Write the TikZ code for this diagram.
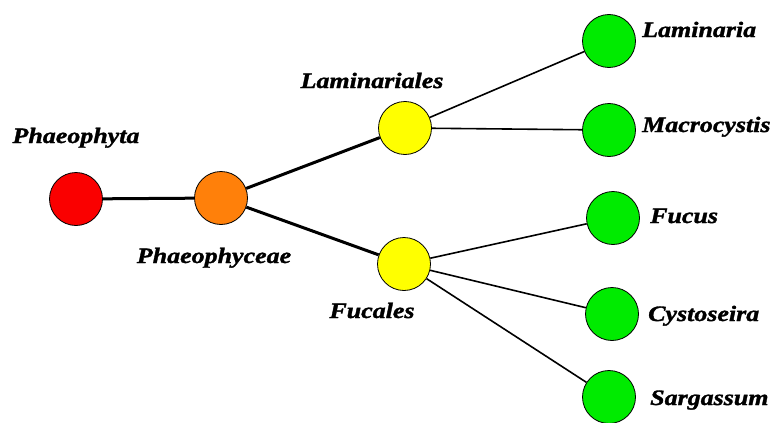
\documentclass[tikz,border=0pt]{standalone}
\usepackage{fontspec}
\setmainfont{Liberation Serif}
\newfontfamily\lblfont[FakeStretch=1.18,FakeBold=1.5]{Liberation Serif}
\begin{document}
\begin{tikzpicture}[x=1pt,y=-1pt,
  taxon/.style={circle,draw=black,line width=0.8pt,minimum size=53pt,inner sep=0pt},
  lbl/.style={inner sep=0pt,font=\lblfont\fontsize{22}{24}\selectfont\bfseries\itshape},
  thick link/.style={line width=3pt},
  thin link/.style={line width=1.6pt}]
\useasboundingbox (0,0) rectangle (777,423);
\definecolor{cred}{RGB}{250,0,0}
\definecolor{corange}{RGB}{255,128,10}
\definecolor{cyellow}{RGB}{255,255,0}
\definecolor{cgreen}{RGB}{0,235,0}
% circles
\node[taxon,fill=cred] (phy) at (76,199) {};
\node[taxon,fill=corange] (pcy) at (221,198) {};
\node[taxon,fill=cyellow] (lal) at (405,128) {};
\node[taxon,fill=cyellow] (fuc) at (404,264) {};
\node[taxon,fill=cgreen] (lam) at (609,41) {};
\node[taxon,fill=cgreen] (mac) at (609,130) {};
\node[taxon,fill=cgreen] (fus) at (613,218) {};
\node[taxon,fill=cgreen] (cys) at (612,314) {};
\node[taxon,fill=cgreen] (sar) at (609,397) {};
% links
\draw[thick link] (phy) -- (pcy);
\draw[thick link] (pcy) -- (lal);
\draw[thick link] (pcy) -- (fuc);
\draw[thin link] (lal) -- (lam);
\draw[thin link] (lal) -- (mac);
\draw[thin link] (fuc) -- (fus);
\draw[thin link] (fuc) -- (cys);
\draw[thin link] (fuc) -- (sar);
% labels
\node[lbl,anchor=base] (tphy) at (76,143) {Phaeophyta};
\node[lbl,anchor=base] (tpcy) at (214,263) {Phaeophyceae};
\node[lbl,anchor=base] (tlal) at (372,88) {Laminariales};
\node[lbl,anchor=base] (tfuc) at (372,318) {Fucales};
\node[lbl,anchor=base west] (tlam) at (642,37) {Laminaria};
\node[lbl,anchor=base west] (tmac) at (642,132) {Macrocystis};
\node[lbl,anchor=base west] (tfus) at (650,223) {Fucus};
\node[lbl,anchor=base west] (tcys) at (648,321) {Cystoseira};
\node[lbl,anchor=base west] (tsar) at (650,405) {Sargassum};
\end{tikzpicture}
\end{document}
